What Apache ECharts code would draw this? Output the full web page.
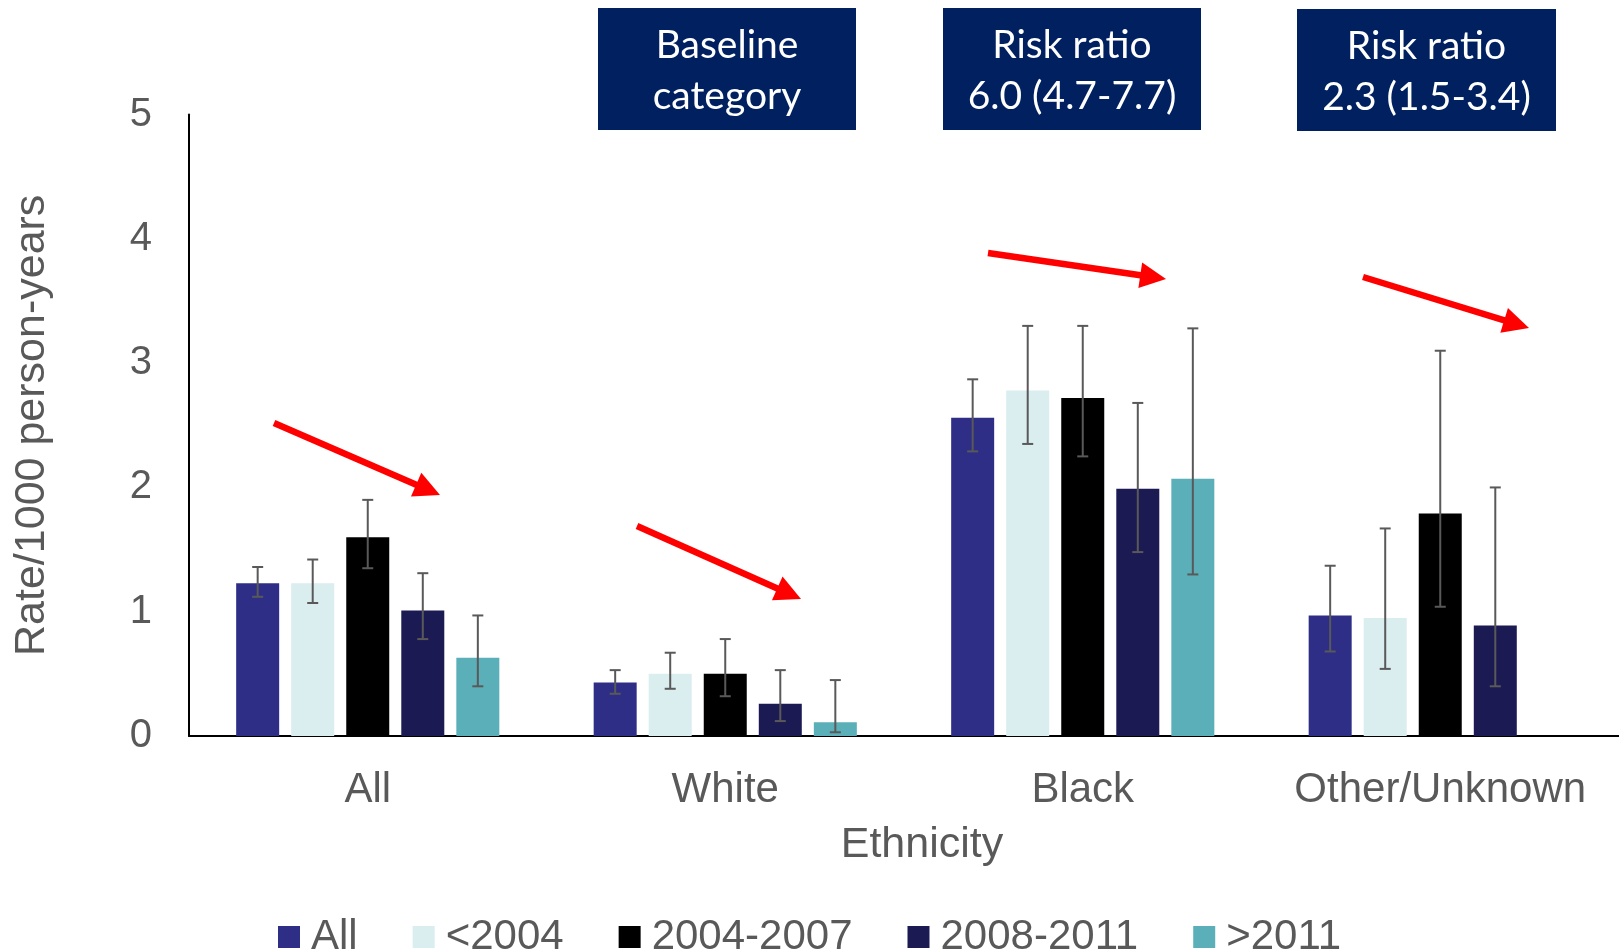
<!DOCTYPE html>
<html>
<head>
<meta charset="utf-8">
<title>Rate by ethnicity and period</title>
<script src="https://cdn.jsdelivr.net/npm/echarts@6/dist/echarts.min.js"></script>
<style>
  html, body { margin: 0; padding: 0; background: #ffffff; }
  #chart { width: 1619px; height: 950px; }
</style>
</head>
<body>
<div id="chart"></div>
<script>
// Ethnic groups on the x axis and diagnosis periods as series
const categories = ['All', 'White', 'Black', 'Other/Unknown'];
const periods = ['All', '<2004', '2004-2007', '2008-2011', '>2011'];

// Rate per 1000 person-years, one value per ethnic group
const rateAll       = [1.23, 0.43, 2.56, 0.97];
const rateBefore04  = [1.23, 0.50, 2.78, 0.95];
const rate0407      = [1.60, 0.50, 2.72, 1.79];
const rate0811      = [1.01, 0.26, 1.99, 0.89];
const rateAfter11   = [0.63, 0.11, 2.07, 0];

// 95% confidence intervals [low, high]; null where no interval is shown
const ciAll      = [[1.12, 1.36], [0.34, 0.53], [2.29, 2.87], [0.68, 1.37]];
const ciBefore04 = [[1.07, 1.42], [0.38, 0.67], [2.35, 3.30], [0.54, 1.67]];
const ci0407     = [[1.35, 1.90], [0.32, 0.78], [2.25, 3.30], [1.04, 3.10]];
const ci0811     = [[0.78, 1.31], [0.12, 0.53], [1.48, 2.68], [0.40, 2.00]];
const ciAfter11  = [[0.40, 0.97], [0.03, 0.45], [1.30, 3.28], null];

// Y axis ticks
const yTicks = [0, 1, 2, 3, 4, 5];

// Box annotations above the groups
const boxTexts = [
  ['Baseline', 'category'],
  ['Risk ratio', '6.0 (4.7-7.7)'],
  ['Risk ratio', '2.3 (1.5-3.4)']
];

const rates = [rateAll, rateBefore04, rate0407, rate0811, rateAfter11];
const cis = [ciAll, ciBefore04, ci0407, ci0811, ciAfter11];
const colors = ['#2E2E87', '#DAEDEF', '#000000', '#1C1A52', '#5BAFB8'];

const BAR_W = 43;
const BAR_GAP = 0.28;
const PITCH = BAR_W * (1 + BAR_GAP);
const TEXT = '#595959';
const FONT = '"Liberation Sans", Arial, sans-serif';

// Flatten intervals for the error bar series: [category, period, low, high]
const errorData = [];
cis.forEach((list, s) => {
  list.forEach((ci, c) => {
    if (ci) errorData.push([c, s, ci[0], ci[1]]);
  });
});

const chart = echarts.init(document.getElementById('chart'), null, { renderer: 'canvas' });

const barSeries = periods.map((name, s) => ({
  name: name,
  type: 'bar',
  data: rates[s],
  barWidth: BAR_W,
  barGap: (BAR_GAP * 100) + '%',
  itemStyle: { color: colors[s] },
  emphasis: { disabled: true },
  z: 2
}));

const errorSeries = {
  type: 'custom',
  name: 'ci',
  data: errorData,
  z: 5,
  silent: true,
  encode: { x: 0, y: [2, 3] },
  renderItem: function (params, api) {
    const c = api.value(0);
    const s = api.value(1);
    const lo = api.coord([c, api.value(2)]);
    const hi = api.coord([c, api.value(3)]);
    const x = lo[0] + (s - 2) * PITCH;
    const cap = 5.5;
    const style = { stroke: '#595959', lineWidth: 2 };
    return {
      type: 'group',
      children: [
        { type: 'line', shape: { x1: x, y1: lo[1], x2: x, y2: hi[1] }, style: style },
        { type: 'line', shape: { x1: x - cap, y1: lo[1], x2: x + cap, y2: lo[1] }, style: style },
        { type: 'line', shape: { x1: x - cap, y1: hi[1], x2: x + cap, y2: hi[1] }, style: style }
      ]
    };
  }
};

chart.setOption({
  animation: false,
  backgroundColor: '#ffffff',
  textStyle: { fontFamily: FONT },
  grid: { left: 189, right: 0, top: 114.6, bottom: 214, containLabel: false },
  legend: {
    data: periods,
    left: 273,
    top: 911,
    icon: 'rect',
    itemWidth: 22,
    itemHeight: 22,
    itemGap: 55,
    selectedMode: false,
    textStyle: { fontSize: 42, color: TEXT, fontFamily: FONT, padding: [0, 0, 0, 6] }
  },
  xAxis: {
    type: 'category',
    data: categories,
    name: 'Ethnicity',
    nameLocation: 'middle',
    nameGap: 88,
    nameTextStyle: { fontSize: 43, color: TEXT, fontFamily: FONT, padding: [0, 0, 0, 36] },
    axisLine: { show: true, lineStyle: { color: '#000000', width: 2 } },
    axisTick: { show: false },
    axisLabel: { interval: 0, hideOverlap: false, fontSize: 42, color: TEXT, margin: 33, fontFamily: FONT },
    splitLine: { show: false }
  },
  yAxis: {
    type: 'value',
    min: yTicks[0],
    max: yTicks[yTicks.length - 1],
    interval: 1,
    name: 'Rate/1000 person-years',
    nameLocation: 'middle',
    nameRotate: 90,
    nameGap: 135,
    nameTextStyle: { fontSize: 43, color: TEXT, fontFamily: FONT },
    axisLine: { show: true, lineStyle: { color: '#000000', width: 2 } },
    axisTick: { show: false },
    axisLabel: { fontSize: 40, color: TEXT, margin: 37, fontFamily: FONT, padding: [6, 0, 0, 0] },
    splitLine: { show: false }
  },
  series: barSeries.concat([errorSeries])
});

// Annotation boxes (navy with white text)
const boxRects = [
  { x: 598, y: 8, w: 258, h: 122 },
  { x: 943, y: 8, w: 258, h: 122 },
  { x: 1297, y: 9, w: 259, h: 122 }
];

// Red trend arrows: [x1, y1, x2 (tip), y2]
const arrowLines = [
  [274, 423, 440, 495],
  [637, 526, 801, 599],
  [988, 253, 1166, 279],
  [1363, 277, 1529, 328]
];

function arrowGraphic(a) {
  const [x1, y1, x2, y2] = a;
  const dx = x2 - x1, dy = y2 - y1;
  const len = Math.sqrt(dx * dx + dy * dy);
  const ux = dx / len, uy = dy / len;
  const headLen = 26, headHalf = 13;
  const bx = x2 - ux * headLen, by = y2 - uy * headLen;
  const px = -uy, py = ux;
  return [
    {
      type: 'line',
      shape: { x1: x1, y1: y1, x2: bx + ux * 2, y2: by + uy * 2 },
      style: { stroke: '#FF0000', lineWidth: 6.5 },
      z: 10
    },
    {
      type: 'polygon',
      shape: { points: [[x2, y2], [bx + px * headHalf, by + py * headHalf], [bx - px * headHalf, by - py * headHalf]] },
      style: { fill: '#FF0000' },
      z: 10
    }
  ];
}

const graphics = [];
boxRects.forEach((b, i) => {
  graphics.push({
    type: 'rect',
    shape: { x: b.x, y: b.y, width: b.w, height: b.h },
    style: { fill: '#002060' },
    z: 10
  });
  graphics.push({
    type: 'text',
    x: b.x + b.w / 2,
    y: b.y + b.h / 2 + 2,
    style: {
      text: boxTexts[i].join('\n'),
      fill: '#ffffff',
      font: '39px Lato, "Open Sans", sans-serif',
      lineHeight: 51,
      align: 'center',
      verticalAlign: 'middle'
    },
    z: 11
  });
});
arrowLines.forEach(a => { arrowGraphic(a).forEach(g => graphics.push(g)); });

chart.setOption({ graphic: graphics });
</script>
</body>
</html>
